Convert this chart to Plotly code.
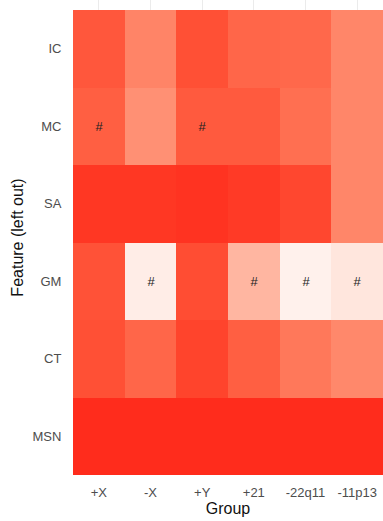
import plotly.graph_objects as go
import numpy as np

groups = ["+X", "-X", "+Y", "+21", "-22q11", "-11p13"]
features = ["IC", "MC", "SA", "GM", "CT", "MSN"]

# relative importance (0 = white, 1 = full red), rows follow `features`
values = [
    [0.86, 0.66, 0.89, 0.80, 0.79, 0.65],  # IC
    [0.83, 0.60, 0.85, 0.85, 0.76, 0.65],  # MC
    [0.97, 0.97, 0.98, 0.96, 0.92, 0.65],  # SA
    [0.88, 0.10, 0.90, 0.40, 0.08, 0.14],  # GM
    [0.89, 0.80, 0.93, 0.83, 0.72, 0.64],  # CT
    [1.00, 1.00, 1.00, 1.00, 1.00, 1.00],  # MSN
]
marks = [
    ["", "", "", "", "", ""],
    ["#", "", "#", "", "", ""],
    ["", "", "", "", "", ""],
    ["", "#", "", "#", "#", "#"],
    ["", "", "", "", "", ""],
    ["", "", "", "", "", ""],
]

LOW = "#FFFFFF"
HIGH = "#FF2C1C"


def hex2rgb(h):
    h = h.lstrip("#")
    return [int(h[i:i + 2], 16) / 255 for i in (0, 2, 4)]


def srgb2lin(c):
    return c / 12.92 if c <= 0.04045 else ((c + 0.055) / 1.055) ** 2.4


def lin2srgb(c):
    c = min(max(c, 0), 1)
    return 12.92 * c if c <= 0.0031308 else 1.055 * c ** (1 / 2.4) - 0.055


WP = (0.95047, 1.0, 1.08883)


def rgb2lab(rgb):
    r, g, b = [srgb2lin(c) for c in rgb]
    X = 0.4124 * r + 0.3576 * g + 0.1805 * b
    Y = 0.2126 * r + 0.7152 * g + 0.0722 * b
    Z = 0.0193 * r + 0.1192 * g + 0.9505 * b
    def f(t):
        return t ** (1 / 3) if t > 0.008856 else 7.787 * t + 16 / 116
    fx, fy, fz = f(X / WP[0]), f(Y / WP[1]), f(Z / WP[2])
    return (116 * fy - 16, 500 * (fx - fy), 200 * (fy - fz))


def lab2rgb(lab):
    L, a, b = lab
    fy = (L + 16) / 116
    fx = fy + a / 500
    fz = fy - b / 200
    def finv(t):
        return t ** 3 if t ** 3 > 0.008856 else (t - 16 / 116) / 7.787
    X, Y, Z = finv(fx) * WP[0], finv(fy) * WP[1], finv(fz) * WP[2]
    r = 3.2406 * X - 1.5372 * Y - 0.4986 * Z
    g = -0.9689 * X + 1.8758 * Y + 0.0415 * Z
    bb = 0.0557 * X - 0.2040 * Y + 1.0570 * Z
    return [lin2srgb(c) for c in (r, g, bb)]


lab_lo = rgb2lab(hex2rgb(LOW))
lab_hi = rgb2lab(hex2rgb(HIGH))
colorscale = []
for t in np.linspace(0, 1, 21):
    lab = [lab_lo[i] + (lab_hi[i] - lab_lo[i]) * t for i in range(3)]
    rgb = lab2rgb(lab)
    colorscale.append([float(t), "rgb({},{},{})".format(*[int(round(c * 255)) for c in rgb])])

fig = go.Figure(
    go.Heatmap(
        z=values,
        x=list(range(len(groups))),
        y=list(range(len(features))),
        text=marks,
        texttemplate="%{text}",
        textfont=dict(family="Liberation Sans, Arial, sans-serif", size=13, color="#222222"),
        colorscale=colorscale,
        zmin=0,
        zmax=1,
        showscale=False,
        hoverinfo="skip",
    )
)

fig.update_layout(
    width=383,
    height=521,
    margin=dict(l=73, r=0, t=0, b=46),
    paper_bgcolor="white",
    plot_bgcolor="white",
    font=dict(family="Liberation Sans, Arial, sans-serif"),
    xaxis=dict(
        tickvals=list(range(len(groups))),
        ticktext=groups,
        range=[-0.5, len(groups) - 0.5],
        showgrid=True,
        gridcolor="#EBEBEB",
        gridwidth=1,
        zeroline=False,
        showline=False,
        ticks="outside",
        ticklen=5,
        tickcolor="rgba(0,0,0,0)",
        tickfont=dict(size=13, color="#4D4D4D"),
        title=dict(text="Group", font=dict(size=16, color="#111111"), standoff=0),
    ),
    yaxis=dict(
        tickvals=list(range(len(features))),
        ticktext=features,
        range=[len(features) - 0.5, -0.5 - 10 / 77.5],
        showgrid=False,
        zeroline=False,
        showline=False,
        ticks="outside",
        ticklen=8,
        tickcolor="rgba(0,0,0,0)",
        tickfont=dict(size=13, color="#4D4D4D"),
        title=dict(text="Feature (left out)", font=dict(size=16, color="#111111"), standoff=4),
    ),
)

fig.write_html("out.html")
